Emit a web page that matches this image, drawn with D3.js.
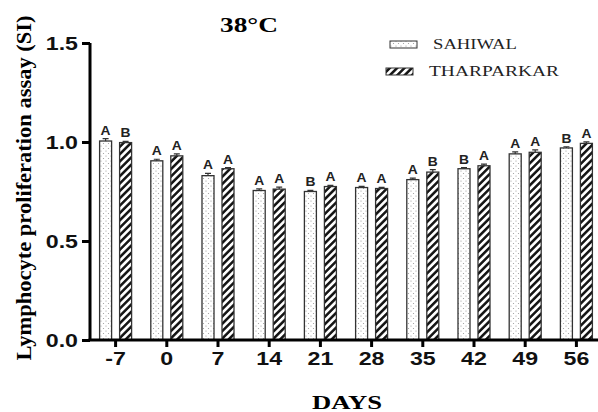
<!DOCTYPE html>
<html>
<head>
<meta charset="utf-8">
<script src="https://cdn.jsdelivr.net/npm/d3@7"></script>
<style>
  body { margin: 0; background: #fff; }
  svg { display: block; }
</style>
</head>
<body>
<svg width="598" height="412"></svg>
<script>
// data
const days = ["-7", "0", "7", "14", "21", "28", "35", "42", "49", "56"];
const sahiwal = [1.005, 0.905, 0.83, 0.755, 0.75, 0.77, 0.81, 0.865, 0.94, 0.97];
const tharparkar = [0.997, 0.93, 0.865, 0.762, 0.775, 0.765, 0.848, 0.88, 0.948, 0.993];
const sahiwalErr = [0.012, 0.008, 0.012, 0.008, 0.006, 0.006, 0.008, 0.006, 0.01, 0.006];
const tharparkarErr = [0.006, 0.01, 0.006, 0.01, 0.006, 0.006, 0.012, 0.008, 0.012, 0.008];
const sahiwalLetters = ["A", "A", "A", "A", "B", "A", "A", "B", "A", "B"];
const tharparkarLetters = ["B", "A", "A", "A", "A", "A", "B", "A", "A", "A"];
const yTicks = [0, 0.5, 1.0, 1.5];

var svg = d3.select("svg");

// the original picture is a bit stretched sideways, so widen text to match
function widen(sel, k) {
    sel.each(function () {
        var w = this.getComputedTextLength();
        d3.select(this).attr("textLength", w * k).attr("lengthAdjust", "spacingAndGlyphs");
    });
}

// patterns
var defs = svg.append("defs");
var dots = defs.append("pattern")
    .attr("id", "dots")
    .attr("patternUnits", "userSpaceOnUse")
    .attr("width", 5).attr("height", 5);
dots.append("rect").attr("width", 5).attr("height", 5).attr("fill", "#fff");
dots.append("circle").attr("cx", 1).attr("cy", 1).attr("r", 0.6).attr("fill", "#999");
dots.append("circle").attr("cx", 3.5).attr("cy", 3.5).attr("r", 0.6).attr("fill", "#999");

var stripes = defs.append("pattern")
    .attr("id", "stripes")
    .attr("patternUnits", "userSpaceOnUse")
    .attr("width", 5.2).attr("height", 5.2)
    .attr("patternTransform", "rotate(45)");
stripes.append("rect").attr("width", 5.2).attr("height", 5.2).attr("fill", "#fff");
stripes.append("line")
    .attr("x1", 1.3).attr("y1", 0).attr("x2", 1.3).attr("y2", 5.2)
    .attr("stroke", "#111").attr("stroke-width", 2.5);

var x = d3.scaleBand().domain(days).range([90, 602]);
var y = d3.scaleLinear().domain([0, 1.5]).range([340, 43]);

const series = [
    { name: "SAHIWAL", values: sahiwal, err: sahiwalErr, letters: sahiwalLetters, fill: "url(#dots)", off: -10 },
    { name: "THARPARKAR", values: tharparkar, err: tharparkarErr, letters: tharparkarLetters, fill: "url(#stripes)", off: 10 }
];
const barW = 12;

series.forEach(s => {
    var g = svg.append("g");
    var rows = days.map((d, i) => ({ day: d, v: s.values[i], e: s.err[i], l: s.letters[i] }));
    var cx = d => x(d.day) + x.bandwidth() / 2 + s.off;

    g.selectAll("rect")
        .data(rows)
        .enter()
        .append("rect")
        .attr("x", d => cx(d) - barW / 2)
        .attr("y", d => y(d.v))
        .attr("width", barW)
        .attr("height", d => y(0) - y(d.v))
        .attr("fill", s.fill)
        .attr("stroke", "#333")
        .attr("stroke-width", 1.3);

    g.selectAll("path.err")
        .data(rows)
        .enter()
        .append("path")
        .attr("class", "err")
        .attr("d", d => `M${cx(d)},${y(d.v)}V${y(d.v + d.e)}M${cx(d) - 3},${y(d.v + d.e)}H${cx(d) + 3}`)
        .attr("stroke", "#333")
        .attr("stroke-width", 1.2)
        .attr("fill", "none");

    g.selectAll("text")
        .data(rows)
        .enter()
        .append("text")
        .attr("x", d => cx(d))
        .attr("y", d => y(d.v + d.e) - 4)
        .attr("text-anchor", "middle")
        .style("font", "bold 12px 'Liberation Sans', Arial, sans-serif")
        .attr("fill", "#222")
        .text(d => d.l)
        .call(widen, 1.15);
});

// axes
var yAxis = svg.append("g")
    .attr("transform", "translate(90,0)")
    .call(d3.axisLeft(y).tickValues(yTicks).tickFormat(d3.format(".1f")).tickSize(8).tickPadding(4));
var xAxis = svg.append("g")
    .attr("transform", "translate(0,340)")
    .call(d3.axisBottom(x).tickSize(7).tickPadding(5));

[yAxis, xAxis].forEach(a => {
    a.select(".domain").attr("stroke", "#000").attr("stroke-width", 3);
    a.selectAll(".tick line").attr("stroke", "#000").attr("stroke-width", 3);
    a.selectAll(".tick text")
        .attr("fill", "#111")
        .style("font", "bold 19px 'Liberation Sans', Arial, sans-serif")
        .call(widen, 1.22);
});
yAxis.select(".domain").attr("d", "M0,340V43");
xAxis.select(".domain").attr("d", "M88.5,0H598");

// titles
svg.append("text")
    .attr("x", 249).attr("y", 32)
    .attr("text-anchor", "middle")
    .style("font", "bold 20px 'Liberation Serif', 'Times New Roman', serif")
    .attr("textLength", 58).attr("lengthAdjust", "spacingAndGlyphs")
    .text("38°C");

svg.append("text")
    .attr("x", 347).attr("y", 409)
    .attr("text-anchor", "middle")
    .style("font", "bold 18px 'Liberation Serif', 'Times New Roman', serif")
    .attr("textLength", 70).attr("lengthAdjust", "spacingAndGlyphs")
    .text("DAYS");

svg.append("text")
    .attr("transform", "translate(31,188) rotate(-90)")
    .attr("text-anchor", "middle")
    .style("font", "bold 20px 'Liberation Serif', 'Times New Roman', serif")
    .attr("textLength", 345).attr("lengthAdjust", "spacingAndGlyphs")
    .text("Lymphocyte proliferation assay (SI)");

// legend
var legend = svg.append("g");
legend.selectAll("rect")
    .data(series)
    .enter()
    .append("rect")
    .attr("x", (d, i) => i === 0 ? 390 : 386)
    .attr("y", (d, i) => i === 0 ? 41 : 68)
    .attr("width", 27)
    .attr("height", 7)
    .attr("fill", d => d.fill)
    .attr("stroke", "#333")
    .attr("stroke-width", 1);
legend.selectAll("text")
    .data(series)
    .enter()
    .append("text")
    .attr("x", (d, i) => i === 0 ? 433 : 429)
    .attr("y", (d, i) => i === 0 ? 49 : 76)
    .style("font", "15px 'Liberation Serif', 'Times New Roman', serif")
    .attr("fill", "#222")
    .attr("textLength", (d, i) => i === 0 ? 84 : 130)
    .attr("lengthAdjust", "spacingAndGlyphs")
    .text(d => d.name);
</script>
</body>
</html>
